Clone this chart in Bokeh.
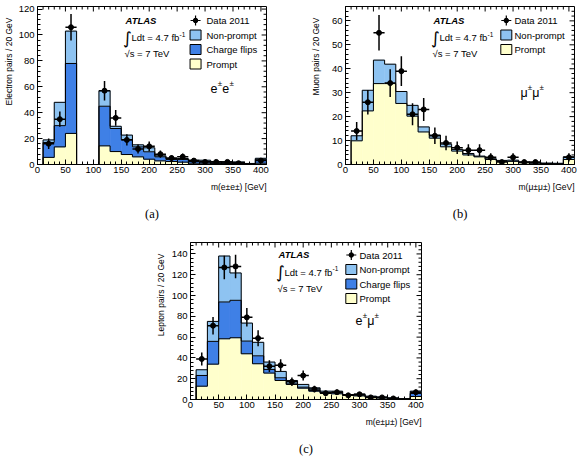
import numpy as np
from bokeh.plotting import figure
from bokeh.models import Label, Range1d, Spacer, SingleIntervalTicker, Title
from bokeh.layouts import row, column
from bokeh.embed import file_html
from bokeh.resources import INLINE

# ---------------- data ----------------
bin_edges = [10, 30, 50, 70, 90, 110, 130, 150, 170, 190, 210, 230, 250, 270,
             290, 310, 330, 350, 370, 390, 410]

# (a) e±e±
ee_prompt = [5.5, 13.6, 24.0, 0, 0, 14.4, 10.0, 7.7, 5.9, 4.1, 2.8, 2.3, 1.8, 1.0, 1.0, 0.8, 0.8, 0.6, 0.3, 1.0]
ee_charge_flips = [11.5, 16.4, 54.0, 0, 0, 30.6, 17.8, 11.6, 7.7, 5.7, 3.1, 1.6, 2.1, 1.3, 1.3, 1.0, 1.0, 0.9, 0.2, 3.0]
ee_non_prompt = [2.0, 18.0, 25.0, 0, 0, 12.0, 1.7, 3.4, 1.6, 3.1, 0.8, 0.7, 0.7, 1.0, 1.0, 0.5, 0.2, 0.5, 0.3, 0.8]
ee_data = [16, 35, 106, 0, 0, 57, 36, 19, 12, 14, 8, 5, 6, 3, 2, 2, 2, 1, 0, 3]

# (b) mu±mu±
mm_prompt = [9.9, 22.4, 33.8, 33.8, 25.5, 20.2, 13.6, 11.0, 7.4, 5.6, 4.0, 3.2, 2.1, 1.3, 1.3, 0.7, 0.5, 0.4, 0.3, 2.1]
mm_non_prompt = [2.1, 8.6, 9.8, 8.1, 5.0, 4.5, 2.1, 1.3, 1.1, 0.7, 0.6, 0.3, 0.3, 0.4, 0.5, 0.3, 0.3, 0.2, 0.2, 1.1]
mm_data = [14, 26, 55, 34, 39, 21, 23, 12, 9, 7, 6, 6, 3, 1, 3, 1, 1, 0, 0, 3]

# (c) e±mu±
em_prompt = [12.8, 34.0, 58.4, 59.4, 44.0, 34.4, 25.4, 18.3, 14.5, 10.9, 8.0, 6.1, 5.5, 3.9, 3.5, 2.2, 1.5, 1.0, 0.5, 2.9]
em_charge_flips = [10.3, 21.9, 35.4, 36.0, 12.2, 7.6, 3.5, 2.6, 0.5, 1.0, 0.7, 0.6, 1.5, 0.3, 0.7, 0.3, 0.3, 0.2, 0.1, 2.9]
em_non_prompt = [5.5, 19.2, 44.2, 26.3, 17.3, 13.0, 7.1, 6.1, 3.3, 2.6, 2.5, 1.3, 1.0, 0.6, 0.9, 0.7, 0.7, 0.3, 0.2, 2.2]
em_data = [39, 71, 127, 128, 79, 59, 32, 33, 17, 23, 10, 6, 7, 4, 5, 2, 2, 1, 0, 7]

# ---------------- style ----------------
FONT = "Liberation Sans"
C_PROMPT = "#ffffcc"
C_FLIP = "#3f80e6"
C_NONPROMPT = "#8ec3f1"


def style_axis(ax, interval, minor, standoff):
    ax.ticker = SingleIntervalTicker(interval=interval, num_minor_ticks=minor)
    ax.major_tick_in = 5
    ax.major_tick_out = 0
    ax.minor_tick_in = 3
    ax.minor_tick_out = 0
    ax.axis_line_color = "black"
    ax.major_tick_line_color = "black"
    ax.minor_tick_line_color = "black"
    ax.major_label_text_font = FONT
    ax.major_label_text_font_size = "9.5px"
    ax.major_label_text_color = "black"
    ax.major_label_standoff = standoff


def side_title(p, text, place, align, offset, standoff, size, font=FONT):
    t = Title(text=text, align=align, offset=offset, text_font=font,
              text_font_size=f"{size}px", text_font_style="normal", text_color="black")
    try:
        t.standoff = standoff
    except Exception:
        pass
    p.add_layout(t, place)
    return t


def panel(size, borders, ymax, yint, yminor, layers, data, ytitle, ytitle_standoff,
          xtitle, chan, chan_dx, chan_base, caption, caption_dx, shift=0.0):
    w, h = size
    bl, br, bt, bb = borders
    fw, fh = w - bl - br, h - bt - bb
    xmax = 410.0
    p = figure(width=w, height=h, x_range=Range1d(0, xmax), y_range=Range1d(0, ymax),
               output_backend="svg", toolbar_location=None,
               min_border_left=bl, min_border_right=br, min_border_top=bt, min_border_bottom=bb)
    p.title.visible = False
    p.xgrid.visible = False
    p.ygrid.visible = False
    p.outline_line_color = "black"
    p.outline_line_width = 1
    p.background_fill_color = "white"
    p.border_fill_color = "white"

    style_axis(p.xaxis[0], 50, 5, 2)
    style_axis(p.yaxis[0], yint, yminor, 3)

    side_title(p, ytitle, "left", "right", 11, ytitle_standoff, 8.5)
    side_title(p, xtitle, "below", "right", 0, 8, 8.5)
    side_title(p, caption, "below", "center", caption_dx - fw / 2, 18, 12.5,
               font="Liberation Serif")

    # ticks on the top and right edges of the frame
    xt_major = np.arange(0, 401, 50)
    xt_minor = np.setdiff1d(np.arange(0, 410, 10), xt_major)
    yt_major = np.arange(0, ymax, yint)
    yt_minor = np.setdiff1d(np.arange(0, ymax, yint / yminor), yt_major)
    for xt, L in ((xt_major, 5), (xt_minor, 3)):
        p.segment(xt, ymax, xt, ymax - L * ymax / fh, line_color="black", line_width=1)
    for yt, L in ((yt_major, 5), (yt_minor, 3)):
        p.segment(xmax, yt, xmax - L * xmax / fw, yt, line_color="black", line_width=1)

    edges = np.array(bin_edges, dtype=float)
    lo, hi = edges[:-1], edges[1:]
    comps = np.array([l[1] for l in layers], dtype=float)
    tops = np.cumsum(comps, axis=0)
    bottom = np.zeros(len(lo))
    for top, (name, _, color) in zip(tops, layers):
        p.quad(left=lo, right=hi, bottom=bottom, top=top, fill_color=color,
               line_color=color, line_width=0.6)
        bottom = top
    for top in tops:
        xs = np.repeat(edges, 2)
        ys = np.concatenate([[0.0], np.repeat(top, 2), [0.0]])
        p.line(xs, ys, line_color="black", line_width=1)

    d = np.array(data, dtype=float)
    m = d > 0
    c = (lo + hi) / 2
    err = np.sqrt(d)
    p.segment(lo[m], d[m], hi[m], d[m], line_color="black", line_width=1.5)
    p.segment(c[m], d[m] - err[m], c[m], d[m] + err[m], line_color="black", line_width=1.5)
    p.scatter(c[m], d[m], marker="circle", size=5, fill_color="black", line_color="black")

    def to_data(dx, dy):
        return dx * xmax / fw, ymax - dy * ymax / fh

    def tl(dx, dy, text, fsize, **kw):
        kw.setdefault("text_font", FONT)
        kw.setdefault("text_baseline", "middle")
        p.add_layout(Label(x=0, y=ymax, x_offset=dx, y_offset=-dy, text=text,
                           text_font_size=f"{fsize}px", text_color="black", **kw))

    # ATLAS block
    tl(88, 13.5 + shift, "ATLAS", 9.5, text_font_style="bold italic")
    tl(90, 31 + shift, "\u222b", 17, text_font="DejaVu Sans", text_align="center")
    tl(94, 31 + shift, "Ldt = 4.7 fb", 9.5)
    tl(142, 27.5 + shift, "-1", 6.5)
    tl(87, 47 + shift, "\u221as = 7 TeV", 9.5)

    # legend
    rows = [14 + shift, 28.5 + shift, 43 + shift, 57.5 + shift]
    x, y = to_data(161.5, rows[0])
    p.scatter([x], [y], marker="cross", size=10, line_width=1.2, line_color="black")
    p.scatter([x], [y], marker="circle", size=4.5, fill_color="black", line_color="black")
    tl(169, rows[0], "Data 2011", 9.5)
    for i, (name, _, color) in enumerate(reversed(layers)):
        x, y = to_data(161.5, rows[i + 1])
        p.rect([x], [y], width=11, height=10, width_units="screen", height_units="screen",
               fill_color=color, line_color="black", line_width=1)
        tl(169, rows[i + 1], name, 9.5)

    # channel label
    offs = [0, 7.2, 11.8, 19.0]
    for j, ch in enumerate(chan):
        if j % 2 == 0:
            tl(chan_dx + offs[j], chan_base, ch, 12.5, text_baseline="alphabetic")
        else:
            tl(chan_dx + offs[j], chan_base - 5, "\u00b1", 8, text_baseline="alphabetic")
    return p


pa = panel((300, 232), (32, 34, 6, 68), 122, 20, 5,
           [("Prompt", ee_prompt, C_PROMPT), ("Charge flips", ee_charge_flips, C_FLIP),
            ("Non-prompt", ee_non_prompt, C_NONPROMPT)],
           ee_data, "Electron pairs / 20 GeV", 3, "m(e\u00b1e\u00b1) [GeV]",
           ["e", "\u00b1", "e", "\u00b1"], 173, 82, "(a)", 108)

pb = panel((280, 232), (44, 6, 6, 68), 66, 10, 5,
           [("Prompt", mm_prompt, C_PROMPT), ("Non-prompt", mm_non_prompt, C_NONPROMPT)],
           mm_data, "Muon pairs / 20 GeV", 16, "m(\u03bc\u00b1\u03bc\u00b1) [GeV]",
           ["\u03bc", "\u00b1", "\u03bc", "\u00b1"], 175, 86, "(b)", 123)

pc = panel((280, 232), (39, 9, 10, 65), 151, 20, 5,
           [("Prompt", em_prompt, C_PROMPT), ("Charge flips", em_charge_flips, C_FLIP),
            ("Non-prompt", em_non_prompt, C_NONPROMPT)],
           em_data, "Lepton pairs / 20 GeV", 6, "m(e\u00b1\u03bc\u00b1) [GeV]",
           ["e", "\u00b1", "\u03bc", "\u00b1"], 165, 78, "(c)", 100, shift=-1.5)

layout = column(row(pa, pb), row(Spacer(width=150, height=232), pc))
open("out.html", "w").write(file_html(layout, INLINE))
